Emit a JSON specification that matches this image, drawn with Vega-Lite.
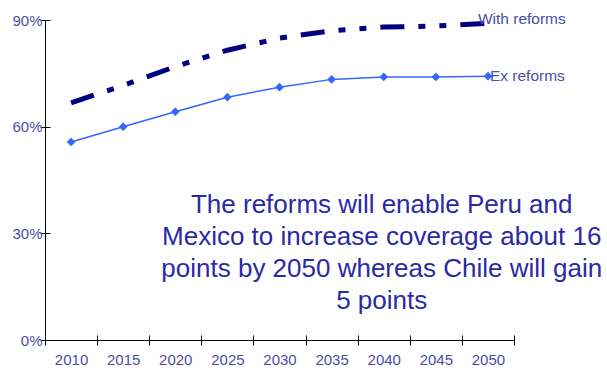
{
  "$schema": "https://vega.github.io/schema/vega-lite/v6.json",
  "width": 469,
  "height": 320,
  "autosize": {"type": "none"},
  "padding": {"left": 45, "top": 20, "right": 93, "bottom": 31},
  "background": "white",
  "config": {"view": {"stroke": null}, "font": "Liberation Sans"},
  "datasets": {
    "series": [
      {"year": 2010, "series": "With reforms", "value": 0.667},
      {"year": 2015, "series": "With reforms", "value": 0.716},
      {"year": 2020, "series": "With reforms", "value": 0.769},
      {"year": 2025, "series": "With reforms", "value": 0.815},
      {"year": 2030, "series": "With reforms", "value": 0.849},
      {"year": 2035, "series": "With reforms", "value": 0.870},
      {"year": 2040, "series": "With reforms", "value": 0.880},
      {"year": 2045, "series": "With reforms", "value": 0.883},
      {"year": 2050, "series": "With reforms", "value": 0.891},
      {"year": 2010, "series": "Ex reforms", "value": 0.557},
      {"year": 2015, "series": "Ex reforms", "value": 0.600},
      {"year": 2020, "series": "Ex reforms", "value": 0.642},
      {"year": 2025, "series": "Ex reforms", "value": 0.683},
      {"year": 2030, "series": "Ex reforms", "value": 0.711},
      {"year": 2035, "series": "Ex reforms", "value": 0.733},
      {"year": 2040, "series": "Ex reforms", "value": 0.740},
      {"year": 2045, "series": "Ex reforms", "value": 0.740},
      {"year": 2050, "series": "Ex reforms", "value": 0.742}
    ],
    "note": [
      {"year": 2040, "value": 0.38, "text": "The reforms will enable Peru and\nMexico to increase coverage about 16\npoints by 2050 whereas Chile will gain\n5 points"}
    ]
  },
  "data": {"name": "series"},
  "layer": [
    {
      "transform": [{"filter": "datum.series === 'With reforms'"}],
      "mark": {"type": "line", "color": "#000080", "strokeWidth": 5, "strokeDash": [24, 14, 7, 14, 7, 14], "strokeCap": "butt"},
      "encoding": {
        "x": {"field": "year", "type": "ordinal", "scale": {"paddingInner": 0, "paddingOuter": 0},
          "axis": {"title": null, "orient": "bottom", "domain": true, "domainColor": "#000000", "tickBand": "extent", "tickSize": 5, "tickColor": "#000000", "labelAngle": 0, "labelFont": "Liberation Sans", "labelFontSize": 15, "labelColor": "#4D4DA6", "labelPadding": 7, "labelDx": 11, "grid": false}},
        "y": {"field": "value", "type": "quantitative", "scale": {"domain": [0, 0.9], "nice": false},
          "axis": {"title": null, "orient": "left", "values": [0, 0.3, 0.6, 0.9], "format": ".0%", "domainColor": "#000000", "tickSize": 5, "tickColor": "#000000", "labelFont": "Liberation Sans", "labelFontSize": 15, "labelColor": "#4D4DA6", "labelPadding": -2, "grid": false}}
      }
    },
    {
      "transform": [{"filter": "datum.series === 'Ex reforms'"}],
      "mark": {"type": "line", "color": "#3366FF", "strokeWidth": 1.5, "point": {"shape": "diamond", "size": 75, "filled": true, "color": "#3366FF"}},
      "encoding": {
        "x": {"field": "year", "type": "ordinal", "axis": null},
        "y": {"field": "value", "type": "quantitative", "axis": null}
      }
    },
    {
      "transform": [{"filter": "datum.series === 'With reforms' && datum.year === 2050"}],
      "mark": {"type": "text", "align": "left", "baseline": "middle", "dx": -10, "dy": -4, "fontSize": 15.5, "color": "#4D4DA6", "font": "Liberation Sans"},
      "encoding": {
        "x": {"field": "year", "type": "ordinal", "axis": null},
        "y": {"field": "value", "type": "quantitative", "axis": null},
        "text": {"field": "series"}
      }
    },
    {
      "transform": [{"filter": "datum.series === 'Ex reforms' && datum.year === 2050"}],
      "mark": {"type": "text", "align": "left", "baseline": "middle", "dx": 2, "dy": 0, "fontSize": 15.5, "color": "#4D4DA6", "font": "Liberation Sans"},
      "encoding": {
        "x": {"field": "year", "type": "ordinal", "axis": null},
        "y": {"field": "value", "type": "quantitative", "axis": null},
        "text": {"field": "series"}
      }
    },
    {
      "data": {"name": "note"},
      "mark": {"type": "text", "align": "center", "baseline": "middle", "lineBreak": "\n", "fontSize": 26, "lineHeight": 32, "dx": -2, "color": "#2A2AA5", "font": "Liberation Sans"},
      "encoding": {
        "x": {"field": "year", "type": "ordinal",
          "axis": {"title": null, "orient": "bottom", "domain": false, "labels": false, "tickBand": "extent", "tickSize": 5, "tickColor": "#000000", "offset": -5, "grid": false}},
        "y": {"field": "value", "type": "quantitative",
          "axis": {"title": null, "orient": "left", "values": [0, 0.3, 0.6, 0.9], "domain": false, "labels": false, "tickSize": 5, "tickColor": "#000000", "offset": -5, "grid": false}},
        "text": {"field": "text"}
      }
    }
  ],
  "resolve": {"axis": {"x": "independent", "y": "independent"}}
}
